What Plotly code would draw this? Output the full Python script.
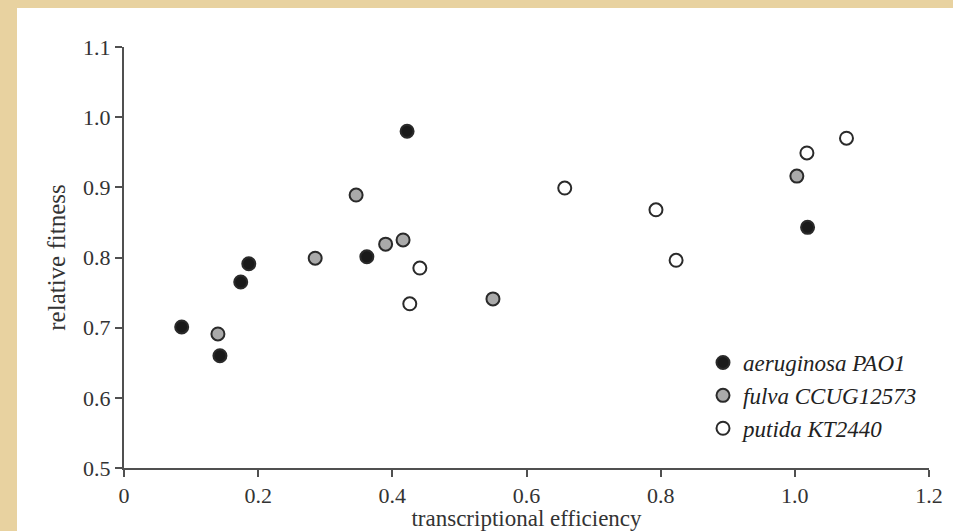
import plotly.graph_objects as go

# data
aer_x = [0.086, 0.143, 0.174, 0.186, 0.362, 0.422, 1.019]
aer_y = [0.701, 0.660, 0.765, 0.791, 0.801, 0.980, 0.843]
ful_x = [0.140, 0.285, 0.346, 0.390, 0.416, 0.550, 1.003]
ful_y = [0.691, 0.799, 0.889, 0.819, 0.825, 0.741, 0.916]
put_x = [0.426, 0.441, 0.657, 0.793, 0.823, 1.018, 1.077]
put_y = [0.734, 0.785, 0.899, 0.868, 0.796, 0.949, 0.970]
names = ["aeruginosa PAO1", "fulva CCUG12573", "putida KT2440"]
fills = ["#1a1a1a", "#aaaaaa", "#ffffff"]
x_ticks = [0, 0.2, 0.4, 0.6, 0.8, 1.0, 1.2]
x_labels = ["0", "0.2", "0.4", "0.6", "0.8", "1.0", "1.2"]
y_ticks = [0.5, 0.6, 0.7, 0.8, 0.9, 1.0, 1.1]
y_labels = ["0.5", "0.6", "0.7", "0.8", "0.9", "1.0", "1.1"]

FONT = "'Liberation Serif', 'Times New Roman', 'DejaVu Serif', serif"
W, H = 953, 531
L, R, T, B = 124, 24, 47, 63
pw, ph = W - L - R, H - T - B

fig = go.Figure()
for xs, ys, nm, fc in [(aer_x, aer_y, names[0], fills[0]),
                       (ful_x, ful_y, names[1], fills[1]),
                       (put_x, put_y, names[2], fills[2])]:
    fig.add_trace(go.Scatter(
        x=xs, y=ys, mode="markers", name=nm,
        marker=dict(size=13, color=fc, line=dict(color="#2a2a2a", width=2)),
    ))

def px2paper_x(p):
    return (p - L) / pw
def px2paper_y(p):
    return (H - B - p) / ph

# white panel over beige background
fig.add_shape(type="rect", xref="paper", yref="paper", layer="below",
              x0=px2paper_x(17), x1=px2paper_x(960),
              y0=px2paper_y(540), y1=px2paper_y(8),
              fillcolor="white", line=dict(width=0))

axis_common = dict(
    showgrid=False, zeroline=False, showline=True, linecolor="#505050",
    linewidth=2, ticks="outside", ticklen=7, tickwidth=2, tickcolor="#505050",
    tickfont=dict(family=FONT, size=22, color="#333333"), automargin=False,
)
fig.update_xaxes(range=[0, 1.2], tickvals=x_ticks, ticktext=x_labels,
                 title=dict(text="transcriptional efficiency", standoff=1,
                            font=dict(family=FONT, size=23, color="#333333")),
                 **axis_common)
fig.update_yaxes(range=[0.5, 1.1], tickvals=y_ticks, ticktext=y_labels,
                 title=dict(text="relative fitness", standoff=10,
                            font=dict(family=FONT, size=25, color="#333333")),
                 **axis_common)

fig.update_layout(
    width=W, height=H, autosize=False,
    margin=dict(l=L, r=R, t=T, b=B),
    paper_bgcolor="#e8d2a0", plot_bgcolor="rgba(0,0,0,0)",
    showlegend=True,
    legend=dict(x=px2paper_x(703), y=px2paper_y(341), xanchor="left", yanchor="top",
                bgcolor="rgba(0,0,0,0)", itemwidth=30, tracegroupgap=0,
                font=dict(family=FONT, size=23, color="#222222", style="italic")),
    font=dict(family=FONT),
)

fig.write_html("out.html")
